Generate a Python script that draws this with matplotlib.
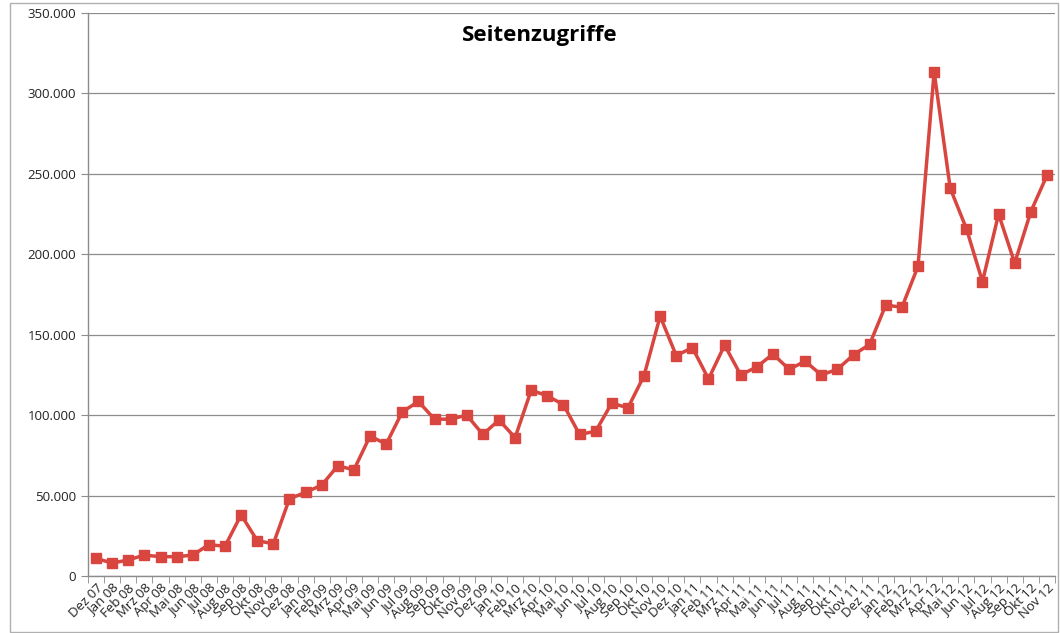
import matplotlib
matplotlib.use("Agg")
import matplotlib.pyplot as plt
from matplotlib.ticker import FuncFormatter, MultipleLocator, FixedLocator
from matplotlib.patches import Rectangle

months = ["Dez 07", "Jan 08", "Feb 08", "Mrz 08", "Apr 08", "Mai 08", "Jun 08", "Jul 08", "Aug 08", "Sep 08",
          "Okt 08", "Nov 08", "Dez 08", "Jan 09", "Feb 09", "Mrz 09", "Apr 09", "Mai 09", "Jun 09", "Jul 09",
          "Aug 09", "Sep 09", "Okt 09", "Nov 09", "Dez 09", "Jan 10", "Feb 10", "Mrz 10", "Apr 10", "Mai 10",
          "Jun 10", "Jul 10", "Aug 10", "Sep 10", "Okt 10", "Nov 10", "Dez 10", "Jan 11", "Feb 11", "Mrz 11",
          "Apr 11", "Mai 11", "Jun 11", "Jul 11", "Aug 11", "Sep 11", "Okt 11", "Nov 11", "Dez 11", "Jan 12",
          "Feb 12", "Mrz 12", "Apr 12", "Mai 12", "Jun 12", "Jul 12", "Aug 12", "Sep 12", "Okt 12", "Nov 12"]
views = [11000, 8000, 10000, 13000, 12000, 12000, 13000, 19500, 18500, 38000,
         22000, 20000, 48000, 52000, 56500, 68500, 66000, 87000, 82000, 102000,
         108500, 97500, 97500, 100000, 88000, 97000, 86000, 115500, 112000, 106500,
         88000, 90000, 107500, 104500, 124500, 161500, 137000, 142000, 122500, 143500,
         125000, 130000, 138000, 128500, 133500, 125000, 128500, 137500, 144000, 168500,
         167000, 192500, 313500, 241000, 216000, 183000, 225000, 194500, 226500, 249000]
title = "Seitenzugriffe"

plt.rcParams['font.family'] = ['Open Sans', 'DejaVu Sans']
fig = plt.figure(figsize=(10.6, 6.33), dpi=100)
ax = fig.add_axes([88/1060, 57/633, (1055-88)/1060, (576-13)/633])

x = list(range(len(months)))
color = "#D9453F"
ax.plot(x, views, color=color, linewidth=2.5, marker='s', markersize=7.5,
        markerfacecolor=color, markeredgecolor=color, zorder=3)

ax.set_ylim(0, 350000)
ax.set_xlim(-0.5, len(months) - 0.5)
ax.yaxis.set_major_locator(MultipleLocator(50000))
ax.yaxis.set_major_formatter(FuncFormatter(lambda v, p: "0" if v == 0 else f"{int(v):,}".replace(",", ".")))
ax.grid(axis='y', color='#8c8c8c', linewidth=0.9)
ax.set_axisbelow(True)

ax.set_xticks(x)
ax.set_xticklabels(months, rotation=45, ha='right', rotation_mode='anchor', fontsize=9.5, color='#222222')
ax.tick_params(axis='x', length=0, pad=4)
ax.xaxis.set_minor_locator(FixedLocator([i - 0.5 for i in range(len(months) + 1)]))
ax.tick_params(axis='x', which='minor', length=5, color='#8c8c8c', direction='out')
ax.tick_params(axis='y', labelsize=9.5, colors='#222222', length=5, color='#8c8c8c', direction='out')

for s in ['top', 'right']:
    ax.spines[s].set_visible(False)
for s in ['left', 'bottom']:
    ax.spines[s].set_color('#8c8c8c')
    ax.spines[s].set_linewidth(1.0)

ax.text(0.467, 0.978, title, transform=ax.transAxes, ha='center', va='top',
        fontsize=16, fontweight='bold', color='black')

fig.patches.append(Rectangle((10/1060, 0.002), 1048/1060, 0.994, transform=fig.transFigure,
                             fill=False, edgecolor='#b0b0b0', linewidth=1.0))

fig.savefig("out.png", dpi=100)
